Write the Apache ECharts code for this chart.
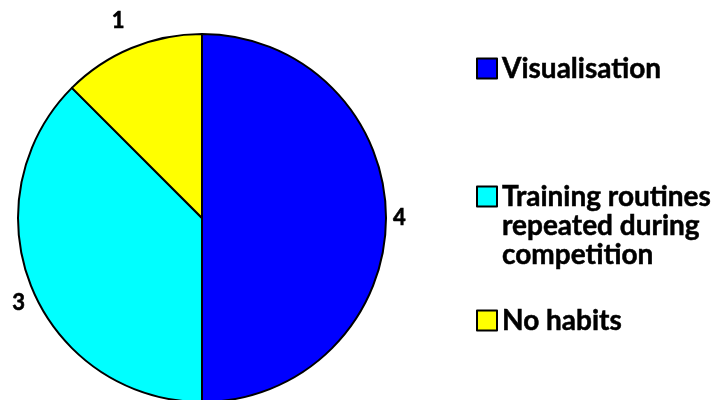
<!DOCTYPE html>
<html>
<head>
<meta charset="utf-8">
<script src="https://cdn.jsdelivr.net/npm/echarts@6/dist/echarts.min.js"></script>
<style>
html,body{margin:0;padding:0;background:#fff;}
#chart{width:722px;height:400px;}
</style>
</head>
<body>
<div id="chart"></div>
<script>
var categories = ['Visualisation', 'Training routines\nrepeated during\ncompetition', 'No habits'];
var values = [4, 3, 1];
var colors = ['#0000FF', '#00FFFF', '#FFFF00'];

// label placement tweaks (labelLine length / distance) per slice
var labelTweaks = [
  {len: 2, dist: 5},
  {len: 38, dist: -28},
  {len: 29, dist: -4}
];
var legendTops = [54, 124, 306];

var FONT = 'Lato, "Open Sans", sans-serif';
var chart = echarts.init(document.getElementById('chart'), null, {renderer: 'canvas'});

var labelStyle = {
  show: true,
  position: 'outside',
  formatter: '{c}',
  fontFamily: FONT,
  fontWeight: 'bold',
  fontSize: 22,
  color: '#000',
  textBorderColor: '#000',
  textBorderWidth: 0.6
};

var data = categories.map(function (c, i) {
  return {
    name: c,
    value: values[i],
    itemStyle: {color: colors[i]},
    label: {distanceToLabelLine: labelTweaks[i].dist},
    labelLine: {show: false, length: labelTweaks[i].len, length2: 0}
  };
});

var legends = categories.map(function (c, i) {
  var lines = c.split('\n').length;
  var pre = new Array(lines).join('\n');
  return {
    orient: 'vertical',
    left: 476,
    top: legendTops[i],
    padding: 0,
    itemWidth: 20,
    itemHeight: 20,
    icon: 'rect',
    selectedMode: false,
    data: [c],
    formatter: function (n) { return pre + n; },
    itemStyle: {borderColor: '#000', borderWidth: 2},
    textStyle: {
      fontFamily: FONT,
      fontWeight: 'bold',
      fontSize: 28,
      lineHeight: 29,
      color: '#000',
      textBorderColor: '#000',
      textBorderWidth: 0.5
    }
  };
});

chart.setOption({
  animation: false,
  backgroundColor: '#fff',
  legend: legends,
  series: [{
    type: 'pie',
    center: [202, 218],
    radius: 184,
    startAngle: 90,
    clockwise: true,
    avoidLabelOverlap: false,
    data: data,
    itemStyle: {borderColor: '#000', borderWidth: 2},
    label: labelStyle,
    labelLine: {show: false},
    emphasis: {disabled: true}
  }]
});
</script>
</body>
</html>
